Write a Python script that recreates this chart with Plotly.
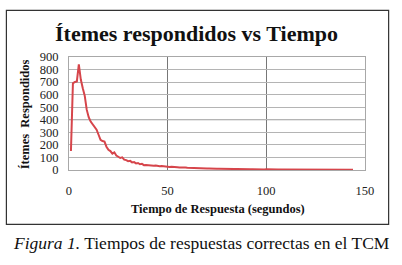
import plotly.graph_objects as go

# Data (time in seconds, items answered)
tiempo = list(range(1, 145))
items = [150, 690, 700, 705, 840, 720, 650, 590, 480, 420,
         385, 360, 345, 320, 280, 240, 230, 225, 185, 160,
         150, 130, 140, 115, 105, 95, 100, 82, 78, 70,
         72, 60, 62, 52, 55, 45, 48, 38, 40, 37,
         36, 35, 34, 36, 32, 30, 31, 28, 27, 28,
         24, 25, 22, 23, 21, 20, 21, 18, 19, 17,
         16, 17, 15, 16, 15, 13, 14, 12, 13, 11,
         12, 10, 11, 10, 9, 10, 9, 8, 9, 8,
         8, 7, 8, 7, 7, 6, 7, 6, 6, 5,
         6, 5, 6, 5, 5, 4, 5, 5, 4, 5,
         4, 4, 5, 4, 4, 3, 4, 4, 3, 4,
         3, 3, 4, 3, 3, 3, 2, 3, 3, 2,
         3, 2, 3, 2, 2, 3, 2, 2, 2, 3,
         2, 2, 2, 1, 2, 2, 1, 2, 2, 1,
         2, 1, 1, 2]

x_ticks = [0, 50, 100, 150]
y_ticks = [0, 100, 200, 300, 400, 500, 600, 700, 800, 900]

W, H = 402, 265


def px(v):
    return v / W


def py(v):
    return (H - v) / H


fig = go.Figure()
fig.add_trace(go.Scatter(x=tiempo, y=items, mode="lines",
                         line=dict(color="#d6454b", width=2), hoverinfo="skip"))

serif = "Liberation Serif"

fig.update_layout(
    width=W, height=H,
    margin=dict(l=0, r=0, t=0, b=0),
    paper_bgcolor="white", plot_bgcolor="rgba(0,0,0,0)",
    showlegend=False,
    xaxis=dict(domain=[px(68), px(373)], range=[0, 150], tickvals=x_ticks,
               showgrid=True, gridcolor="#777777", gridwidth=1,
               showline=True, linecolor="#a8a8a8", linewidth=1, mirror=True,
               zeroline=False, ticks="outside", ticklen=9, tickcolor="rgba(0,0,0,0)",
               tickfont=dict(family=serif, size=12.5, color="#222")),
    yaxis=dict(domain=[py(172), py(52.7)], range=[0, 900], tickvals=y_ticks,
               showgrid=True, gridcolor="#b4b4b4", gridwidth=1,
               showline=True, linecolor="#a8a8a8", linewidth=1, mirror=True,
               zeroline=False, ticks="outside", ticklen=7, tickcolor="rgba(0,0,0,0)",
               tickfont=dict(family=serif, size=12.5, color="#222")),
    annotations=[
        dict(text="<b>Ítemes respondidos vs Tiempo</b>", xref="paper", yref="paper",
             x=px(199), y=py(28), xanchor="center", yanchor="middle", showarrow=False,
             font=dict(family=serif, size=22, color="#111")),
        dict(text="<b>Ítemes&nbsp;&nbsp;Respondidos</b>", xref="paper", yref="paper",
             x=px(23), y=py(113), xanchor="center", yanchor="middle", showarrow=False,
             textangle=-90, font=dict(family=serif, size=12.5, color="#111")),
        dict(text="<b>Tiempo de Respuesta (segundos)</b>", xref="paper", yref="paper",
             x=px(222), y=py(213), xanchor="center", yanchor="middle", showarrow=False,
             font=dict(family=serif, size=12.5, color="#111")),
        dict(text="<i>Figura 1.</i> Tiempos de respuestas correctas en el TCM",
             xref="paper", yref="paper", x=px(8), y=py(249), xanchor="left",
             yanchor="middle", showarrow=False,
             font=dict(family=serif, size=17.5, color="#111")),
    ],
)

fig.add_shape(type="rect", xref="paper", yref="paper",
              x0=px(3.5), x1=px(397.5), y0=py(229.5), y1=py(3.5),
              line=dict(color="#333333", width=1.2))
fig.add_shape(type="line", xref="x", yref="y", x0=0, x1=150, y0=400, y1=400,
              line=dict(color="#7a7a7a", width=1), layer="below")

fig.write_html("out.html", config={"displayModeBar": False},
               default_width="402px", default_height="265px",
               post_script="document.body.style.margin='0px';document.body.style.overflow='hidden';")
